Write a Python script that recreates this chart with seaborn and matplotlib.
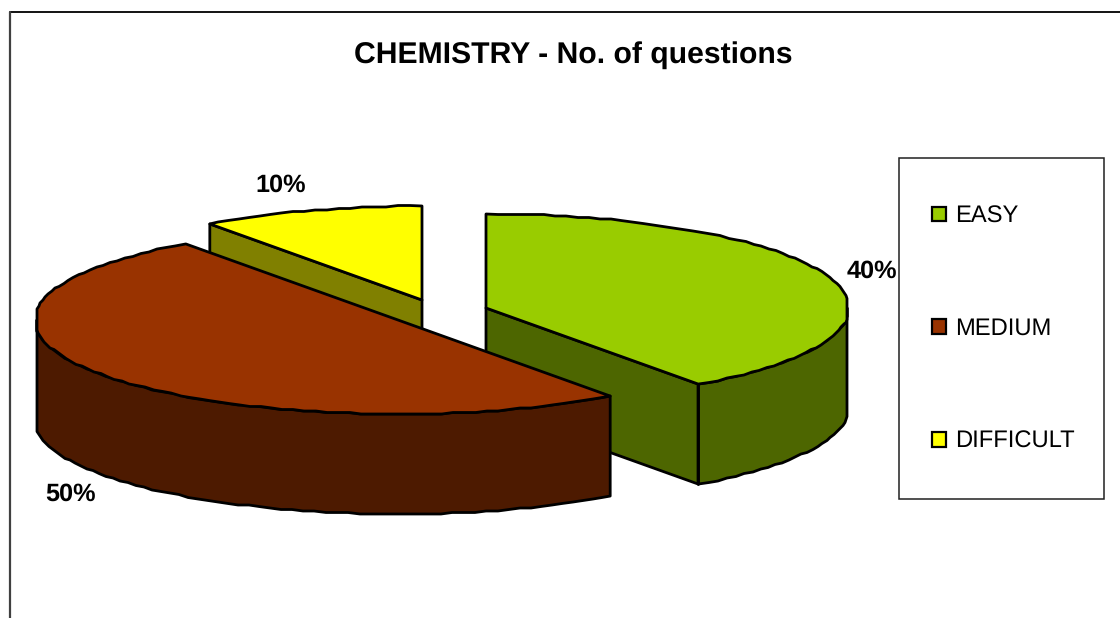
import matplotlib
matplotlib.use('Agg')
import matplotlib.pyplot as plt
from matplotlib.patches import Patch, Rectangle
import numpy as np
import seaborn as sns

categories = ['EASY', 'MEDIUM', 'DIFFICULT']
shares = [40, 50, 10]
top_colors = ['#99CC00', '#993300', '#FFFF00']
side_colors = ['#4D6600', '#4D1A00', '#808000']
title = 'CHEMISTRY - No. of questions'

# pie geometry, in pixels of the 1120x618 canvas
centers = {'EASY': (486, 308), 'MEDIUM': (398, 320), 'DIFFICULT': (422, 300)}
label_pos = {'EASY': (871.5, 271), 'MEDIUM': (70, 494.5), 'DIFFICULT': (281, 185)}
rx, ry, depth = 361, 94, 100


def ell(cx, cy, deg):
  rad = np.radians(deg)
  return cx + rx * np.sin(rad), cy - ry * np.cos(rad)


def arc(cx, cy, a0, a1):
  # coarse steps on a small grid give the stair-stepped outline of the old renderer
  n = max(2, int(abs(a1 - a0) / 1.8))
  deg = np.linspace(a0, a1, n)
  rad = np.radians(deg)
  x = cx + np.clip(1.007 * rx * np.sin(rad), -rx, rx)
  y = cy - ry * np.cos(rad)
  x, y = np.round(x), np.round(y / 1.5) * 1.5
  x[0], y[0] = ell(cx, cy, a0)
  x[-1], y[-1] = ell(cx, cy, a1)
  return x, y


def draw_slice(ax, name, a0, a1, top, side):
  cx, cy = centers[name]
  style = dict(edgecolor='black', linewidth=2.0, joinstyle='round')

  # cut faces that show at the front
  if a1 >= 360:
    px, py = ell(cx, cy, a0)
    ax.fill([px, cx, cx, px], [py, cy, cy + depth, py + depth], facecolor=side, **style)
  if a0 == 0:
    px, py = ell(cx, cy, a1)
    ax.fill([cx, px, px, cx], [cy, py, py + depth, cy + depth], facecolor=side, **style)

  # outer rim between the visible angles
  lo, hi = max(a0, 90), min(a1, 270)
  if lo < hi:
    x, y = arc(cx, cy, lo, hi)
    ax.fill(np.r_[x, x[::-1]], np.r_[y, y[::-1] + depth], facecolor=side, **style)
  if a0 == 0:
    px, py = ell(cx, cy, a1)
    ax.plot([px, px], [py, py + depth], color='black', lw=2.0)

  # top face
  x, y = arc(cx, cy, a0, a1)
  ax.fill(np.r_[cx, x], np.r_[cy, y], facecolor=top, **style)


sns.set_theme(style='white')
plt.rcParams['font.family'] = ['Liberation Sans', 'DejaVu Sans']
plt.rcParams['text.hinting'] = 'no_hinting'

fig = plt.figure(figsize=(11.2, 6.18), dpi=100)
ax = fig.add_axes([0, 0, 1, 1])
ax.set_xlim(0, 1120)
ax.set_ylim(618, 0)
ax.axis('off')

# chart area frame
ax.plot([10, 1120], [12, 12], color='black', lw=1.3)
ax.plot([10, 10], [12, 618], color='#404040', lw=1.6)

ends = np.cumsum(shares) * 3.6
starts = np.r_[0, ends[:-1]]
for i in [2, 0, 1]:
  draw_slice(ax, categories[i], starts[i], ends[i], top_colors[i], side_colors[i])

for name, val in zip(categories, shares):
  ax.text(*label_pos[name], f'{val}%', fontsize=18.2, fontweight='bold', color='black',
          ha='center', va='center')

ax.text(573, 55, title, fontsize=21.7, fontweight='bold', color='black', ha='center', va='center')

# legend box
ax.add_patch(Rectangle((899, 158), 205, 341, facecolor='white', edgecolor='#202020', lw=1.1))
handles = [Patch(facecolor=c, edgecolor='black', linewidth=1.6) for c in top_colors]
ax.legend(handles, categories, loc='upper left', bbox_to_anchor=(932, 205), bbox_transform=ax.transData,
          frameon=False, fontsize=17.1, labelcolor='black', handlelength=0.59, handleheight=0.59,
          handletextpad=0.36, labelspacing=3.8, borderpad=0, borderaxespad=0)

fig.savefig('out.png', dpi=100)
